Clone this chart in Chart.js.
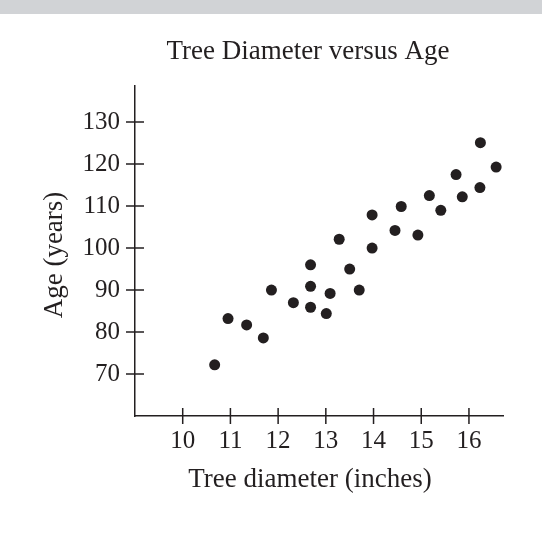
<!DOCTYPE html>
<html>
<head>
<meta charset="utf-8">
<script src="https://cdn.jsdelivr.net/npm/chart.js@4"></script>
<style>
  body { margin: 0; background: #fff; }
  .topbar { position: absolute; left: 0; top: 0; width: 542px; height: 14px; background: #d1d3d6; }
  #chart { position: absolute; left: 0; top: 0; }
</style>
</head>
<body>
<div class="topbar"></div>
<canvas id="chart" width="542" height="534"></canvas>
<script>
// Data
const diameters = [10.67, 10.95, 11.34, 11.69, 11.86, 12.32, 12.68, 12.68, 12.68, 13.01, 13.09, 13.28, 13.5,
  13.7, 13.97, 13.97, 14.45, 14.58, 14.93, 15.17, 15.41, 15.73, 15.86, 16.23, 16.24, 16.57];
const ages = [72.2, 83.2, 81.7, 78.6, 90, 87, 96, 90.9, 85.9, 84.4, 89.2, 102.1, 95,
  90, 107.9, 100, 104.2, 109.9, 103.1, 112.5, 109, 117.5, 112.2, 114.4, 125.1, 119.3];
const xTicks = [10, 11, 12, 13, 14, 15, 16];
const yTicks = [70, 80, 90, 100, 110, 120, 130];

const chartTitle = "Tree Diameter versus Age";
const xTitle = "Tree diameter (inches)";
const yTitle = "Age (years)";

const ink = "#231f20";
const serif = '"Liberation Serif", "Times New Roman", serif';

// Tick marks cross the axis, and the titles sit off-centre, so draw them here
const axisMarks = {
  id: "axisMarks",
  afterDraw(chart) {
    const { ctx, chartArea, scales: { x, y } } = chart;
    ctx.save();
    ctx.strokeStyle = ink;
    ctx.lineWidth = 1.5;
    ctx.beginPath();
    x.ticks.forEach(t => {
      const px = x.getPixelForValue(t.value);
      ctx.moveTo(px, chartArea.bottom - 8);
      ctx.lineTo(px, chartArea.bottom + 8);
    });
    y.ticks.forEach(t => {
      const py = y.getPixelForValue(t.value);
      ctx.moveTo(chartArea.left - 9, py);
      ctx.lineTo(chartArea.left + 9, py);
    });
    ctx.stroke();

    ctx.fillStyle = ink;
    ctx.font = "27px " + serif;
    ctx.textAlign = "center";
    ctx.textBaseline = "alphabetic";
    ctx.fillText(chartTitle, 308, 59);
    ctx.fillText(xTitle, 310, 487);
    ctx.translate(62, 255);
    ctx.rotate(-Math.PI / 2);
    ctx.fillText(yTitle, 0, 0);
    ctx.restore();
  }
};

new Chart(document.getElementById("chart"), {
  type: "scatter",
  data: {
    datasets: [{
      data: diameters.map((d, i) => ({ x: d, y: ages[i] })),
      backgroundColor: ink,
      borderWidth: 0,
      pointRadius: 5.5
    }]
  },
  options: {
    responsive: false,
    animation: false,
    events: [],
    layout: { padding: { top: 86, right: 38.7, left: 0, bottom: 0 } },
    plugins: { legend: { display: false }, tooltip: { enabled: false } },
    scales: {
      x: {
        type: "linear",
        min: 9,
        max: 16.72,
        afterBuildTicks: scale => { scale.ticks = xTicks.map(v => ({ value: v })); },
        afterFit: scale => { scale.height = 118; },
        grid: { display: false, drawTicks: false },
        border: { display: true, color: ink, width: 1.5 },
        ticks: { color: ink, padding: 10, font: { family: serif, size: 25 } }
      },
      y: {
        type: "linear",
        min: 60,
        max: 138.6,
        afterBuildTicks: scale => { scale.ticks = yTicks.map(v => ({ value: v })); },
        afterFit: scale => { scale.width = 135; },
        grid: { display: false, drawTicks: false },
        border: { display: true, color: ink, width: 1.5 },
        ticks: { color: ink, padding: 15, font: { family: serif, size: 25 } }
      }
    }
  },
  plugins: [axisMarks]
});
</script>
</body>
</html>
